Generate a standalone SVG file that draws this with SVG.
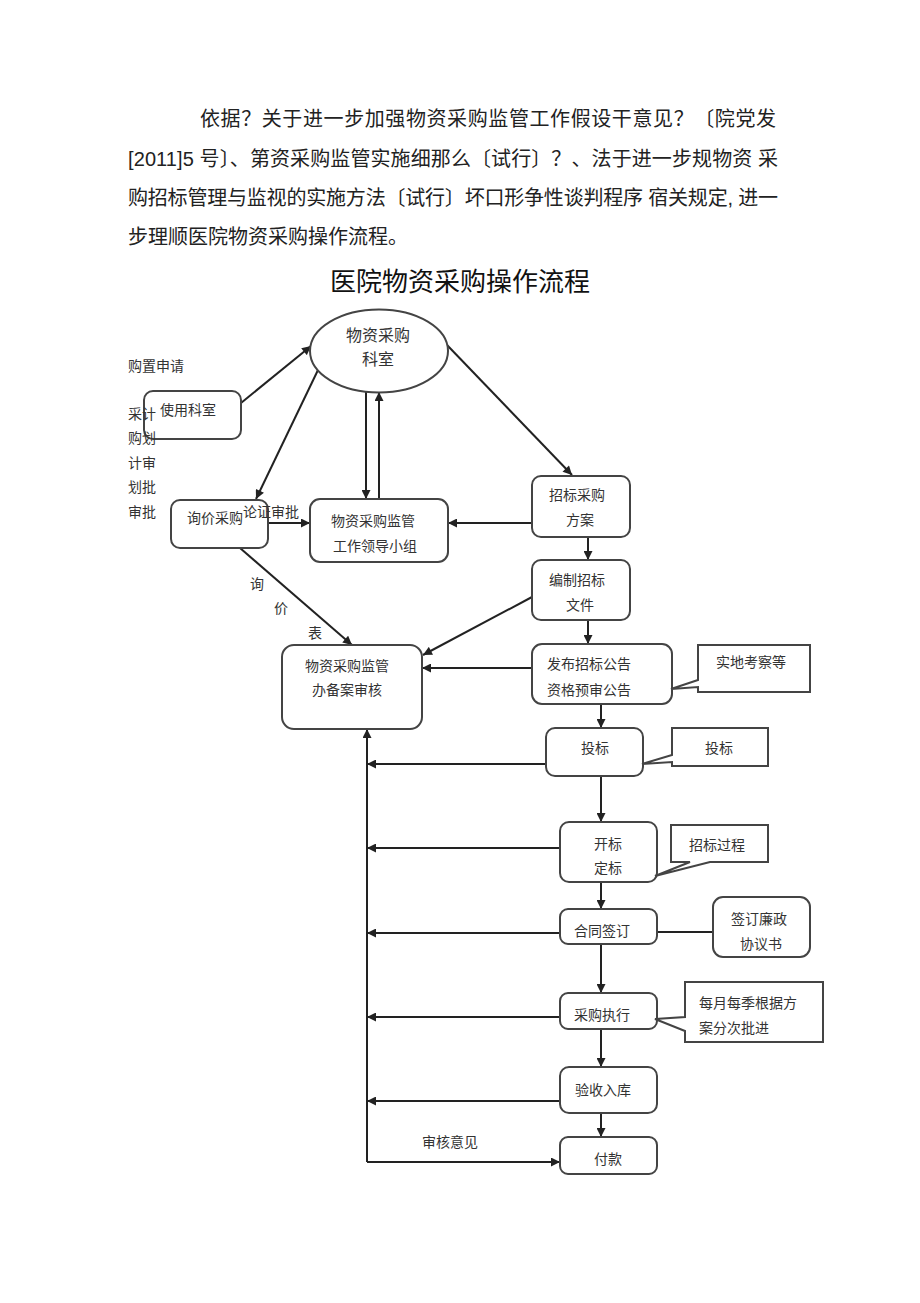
<svg xmlns="http://www.w3.org/2000/svg" width="920" height="1303" viewBox="0 0 920 1303">
<defs>
<marker id="ah" viewBox="0 0 10 10" refX="10" refY="5" markerWidth="10" markerHeight="9" orient="auto" markerUnits="userSpaceOnUse"><path d="M0,0 L10,5 L0,10 z" fill="#222"/></marker>
<style>
.hdr{font-family:"Liberation Sans","Noto Sans CJK SC",sans-serif;font-size:20px;fill:#222}
.ttl{font-family:"Noto Sans CJK SC",sans-serif;font-size:26px;fill:#111;text-anchor:middle}
.box{fill:#fff;stroke:#444;stroke-width:2}
.co{fill:#fff;stroke:#444;stroke-width:2;stroke-linejoin:miter}
.t{font-family:"Noto Sans CJK SC",sans-serif;font-size:14px;fill:#333;text-anchor:middle;dominant-baseline:central}
.tl{font-family:"Noto Sans CJK SC",sans-serif;font-size:14px;fill:#333;dominant-baseline:central}
.te{font-family:"Noto Sans CJK SC",sans-serif;font-size:16px;fill:#333;text-anchor:middle;dominant-baseline:central}
.c{fill:none;stroke:#222;stroke-width:2}
.ca{fill:none;stroke:#222;stroke-width:2;marker-end:url(#ah)}
</style>
</defs>
<rect width="920" height="1303" fill="#fff"/>
<g id="header">
<text class="hdr" x="200" y="126" textLength="576" lengthAdjust="spacing">依据？关于进一步加强物资采购监管工作假设干意见？〔院党发</text>
<text class="hdr" x="128" y="166" textLength="650" lengthAdjust="spacing">[2011]5 号〕、第资采购监管实施细那么〔试行〕？、法于进一步规物资 采</text>
<text class="hdr" x="128" y="205" textLength="650" lengthAdjust="spacing">购招标管理与监视的实施方法〔试行〕坏口形争性谈判程序 宿关规定, 进一</text>
<text class="hdr" x="128" y="244">步理顺医院物资采购操作流程。</text>
<text class="ttl" x="460" y="291">医院物资采购操作流程</text>
</g>
<g id="connectors">
<line class="ca" x1="241" y1="403" x2="311" y2="346"/>
<line class="ca" x1="318" y1="370" x2="256" y2="499"/>
<line class="ca" x1="366" y1="392" x2="366" y2="499"/>
<line class="ca" x1="379" y1="499" x2="379" y2="392"/>
<line class="ca" x1="268" y1="523" x2="310" y2="523"/>
<line class="ca" x1="532" y1="523" x2="448" y2="523"/>
<line class="ca" x1="447" y1="345" x2="572" y2="475"/>
<line class="ca" x1="588" y1="537" x2="588" y2="560"/>
<line class="ca" x1="240" y1="548" x2="352" y2="645"/>
<line class="ca" x1="532" y1="597" x2="423" y2="655"/>
<line class="ca" x1="532" y1="668" x2="422" y2="668"/>
<line class="ca" x1="588" y1="620" x2="588" y2="644"/>
<line class="ca" x1="601" y1="704" x2="601" y2="728"/>
<line class="ca" x1="601" y1="776" x2="601" y2="822"/>
<line class="ca" x1="601" y1="882" x2="601" y2="909"/>
<line class="ca" x1="601" y1="944" x2="601" y2="993"/>
<line class="ca" x1="601" y1="1029" x2="601" y2="1067"/>
<line class="ca" x1="601" y1="1113" x2="601" y2="1137"/>
<line class="ca" x1="367" y1="1162" x2="367" y2="729"/>
<line class="ca" x1="546" y1="764" x2="367" y2="764"/>
<line class="ca" x1="560" y1="848" x2="367" y2="848"/>
<line class="ca" x1="560" y1="933" x2="367" y2="933"/>
<line class="ca" x1="560" y1="1017" x2="367" y2="1017"/>
<line class="ca" x1="560" y1="1101" x2="367" y2="1101"/>
<line class="ca" x1="367" y1="1162" x2="560" y2="1162"/>
<line class="c" x1="657" y1="932" x2="713" y2="932"/>
</g>
<g id="n-keshi"><ellipse class="box" cx="379" cy="351" rx="69" ry="41.5"/><text class="te" x="378" y="334">物资采购</text><text class="te" x="378" y="358">科室</text></g>
<g id="n-shiyong"><rect class="box" x="144" y="391" width="97" height="48" rx="9"/><text class="t" x="188" y="409">使用科室</text></g>
<g id="n-xunjia"><rect class="box" x="171" y="500" width="97" height="48" rx="9"/><text class="t" x="215" y="517">询价采购</text></g>
<g id="n-lunzheng"><text class="t" x="271" y="511">论证审批</text></g>
<g id="n-xiaozu"><rect class="box" x="310" y="499" width="138" height="63" rx="10"/><text class="t" x="373" y="520">物资采购监管</text><text class="t" x="375" y="545">工作领导小组</text></g>
<g id="n-fangan"><rect class="box" x="532" y="476" width="98" height="61" rx="9"/><text class="t" x="577" y="494">招标采购</text><text class="t" x="580" y="519">方案</text></g>
<g id="n-bianzhi"><rect class="box" x="532" y="560" width="98" height="60" rx="9"/><text class="t" x="577" y="579">编制招标</text><text class="t" x="580" y="604">文件</text></g>
<g id="n-beian"><rect class="box" x="282" y="645" width="140" height="84" rx="12"/><text class="t" x="347" y="665">物资采购监管</text><text class="t" x="347" y="689">办备案审核</text></g>
<g id="n-fabu"><rect class="box" x="532" y="644" width="140" height="60" rx="10"/><text class="t" x="589" y="663">发布招标公告</text><text class="t" x="589" y="689">资格预审公告</text></g>
<g id="n-shidi"><path class="co" d="M698,645 H810 V692 H698 V687 L671,689 L698,680 Z"/><text class="t" x="751" y="661">实地考察等</text></g>
<g id="n-toubiao"><rect class="box" x="546" y="728" width="97" height="48" rx="9"/><text class="t" x="595" y="747">投标</text></g>
<g id="n-toubiao-note"><path class="co" d="M672,728 H768 V766 H672 V762 L642,764 L672,755 Z"/><text class="t" x="719" y="747">投标</text></g>
<g id="n-kaibiao"><rect class="box" x="560" y="822" width="97" height="60" rx="9"/><text class="t" x="608" y="843">开标</text><text class="t" x="608" y="867">定标</text></g>
<g id="n-guocheng"><path class="co" d="M671,825 H768 V862 H710 L655,876 L690,862 H671 Z"/><text class="t" x="717" y="844">招标过程</text></g>
<g id="n-hetong"><rect class="box" x="560" y="909" width="97" height="35" rx="8"/><text class="t" x="602" y="930">合同签订</text></g>
<g id="n-lianzheng"><rect class="box" x="713" y="897" width="97" height="60" rx="10"/><text class="t" x="759" y="918">签订廉政</text><text class="t" x="761" y="943">协议书</text></g>
<g id="n-zhixing"><rect class="box" x="560" y="993" width="97" height="36" rx="8"/><text class="t" x="602" y="1014">采购执行</text></g>
<g id="n-pijin"><path class="co" d="M685,982 H823 V1042 H685 V1031 L655,1019 L685,1017 Z"/><text class="tl" x="699" y="1002">每月每季根据方</text><text class="tl" x="699" y="1027">案分次批进</text></g>
<g id="n-yanshou"><rect class="box" x="560" y="1067" width="97" height="46" rx="9"/><text class="t" x="603" y="1089">验收入库</text></g>
<g id="n-fukuan"><rect class="box" x="560" y="1137" width="97" height="37" rx="8"/><text class="t" x="608" y="1158">付款</text></g>
<g id="labels">
<text class="tl" x="128" y="365">购置申请</text>
<text class="tl" x="128" y="413">采计</text>
<text class="tl" x="128" y="437">购划</text>
<text class="tl" x="128" y="462">计审</text>
<text class="tl" x="128" y="486">划批</text>
<text class="tl" x="128" y="511">审批</text>
<text class="t" x="257" y="583">询</text>
<text class="t" x="281" y="607">价</text>
<text class="t" x="315" y="632">表</text>
<text class="t" x="450" y="1141">审核意见</text>
</g>
</svg>
